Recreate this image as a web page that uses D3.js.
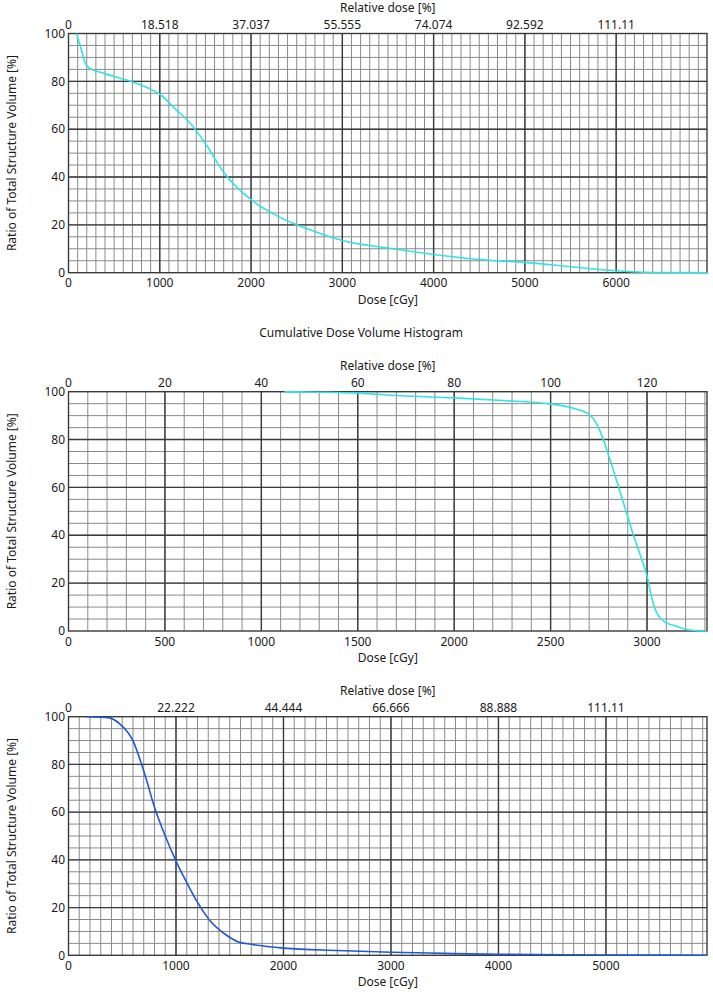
<!DOCTYPE html>
<html>
<head>
<meta charset="utf-8">
<script src="https://cdn.jsdelivr.net/npm/d3@7"></script>
<style>
  body { margin: 0; background: #fff; }
  svg { font-family: "Segoe UI", "Noto Sans", sans-serif; }
</style>
</head>
<body>
<svg id="chart" width="713" height="995"></svg>
<script>
// panel 1
const doseTicks1 = [0, 1000, 2000, 3000, 4000, 5000, 6000];
const relLabels1 = ["0", "18.518", "37.037", "55.555", "74.074", "92.592", "111.11"];
const dose1 = [88, 142, 178, 233, 306, 452, 671, 854, 1000, 1182, 1310, 1500, 1700, 2000, 2250, 2500, 2750, 3000, 3500, 4000, 4500, 5000, 5500, 6000, 6300, 6600, 7000];
const vol1  = [100, 93, 88.2, 85.4, 84.3, 82.6, 80.1, 77.5, 74.6, 68, 63.5, 54, 42, 30.5, 24.5, 20, 16.5, 13.5, 10.3, 7.6, 5.5, 4.3, 2.5, 0.8, 0.2, 0.05, 0];

// panel 2
const doseTicks2 = [0, 500, 1000, 1500, 2000, 2500, 3000];
const relLabels2 = ["0", "20", "40", "60", "80", "100", "120"];
const dose2 = [1120, 1300, 1500, 1722, 2000, 2250, 2496, 2622, 2700, 2740, 2780, 2830, 2880, 2930, 2970, 3000, 3020, 3040, 3060, 3089, 3159, 3211, 3260, 3310];
const vol2  = [100, 99.8, 99.4, 98.3, 97.4, 96.3, 94.9, 93, 90.5, 86.5, 78.5, 66, 53, 40, 30.5, 23, 15.5, 9.5, 6.2, 3.9, 1.8, 0.5, 0.1, 0];

// panel 3
const doseTicks3 = [0, 1000, 2000, 3000, 4000, 5000];
const relLabels3 = ["0", "22.222", "44.444", "66.666", "88.888", "111.11"];
const dose3 = [168, 379, 472, 597, 721, 800, 900, 1000, 1100, 1187, 1311, 1467, 1575, 1700, 2000, 2500, 3000, 3500, 4000, 5000, 5940];
const vol3  = [100, 99.5, 97.2, 90.2, 74.2, 62, 50, 39.5, 30.5, 23.2, 14.8, 8.5, 5.7, 4.6, 3.0, 2.0, 1.3, 0.8, 0.4, 0.15, 0];

const volTicks = [0, 20, 40, 60, 80, 100];

const svg = d3.select("#chart");
const left = 68.5, right = 707;
const fs = 12;

function drawPanel(cfg) {
    const g = svg.append("g");

    const x = d3.scaleLinear().domain([0, cfg.xMax]).range([left, right]);
    const y = d3.scaleLinear().domain([0, 100]).range([cfg.bottom, cfg.top]);

    // minor grid
    g.selectAll(".vminor")
        .data(d3.range(100, cfg.xMax, 100))
        .join("line")
            .attr("x1", d => x(d)).attr("x2", d => x(d))
            .attr("y1", cfg.top).attr("y2", cfg.bottom)
            .attr("stroke", "#8a8a8a").attr("stroke-width", 1);
    g.selectAll(".hminor")
        .data(d3.range(5, 100, 5))
        .join("line")
            .attr("x1", left).attr("x2", right)
            .attr("y1", d => y(d)).attr("y2", d => y(d))
            .attr("stroke", "#8a8a8a").attr("stroke-width", 1);

    // major grid
    g.selectAll(".vmajor")
        .data(cfg.doseTicks.slice(1))
        .join("line")
            .attr("x1", d => x(d)).attr("x2", d => x(d))
            .attr("y1", cfg.top).attr("y2", cfg.bottom)
            .attr("stroke", "#3a3a3a").attr("stroke-width", 1.4);
    g.selectAll(".hmajor")
        .data(volTicks.slice(1, -1))
        .join("line")
            .attr("x1", left).attr("x2", right)
            .attr("y1", d => y(d)).attr("y2", d => y(d))
            .attr("stroke", "#3a3a3a").attr("stroke-width", 1.4);

    g.append("rect")
        .attr("x", left).attr("y", cfg.top)
        .attr("width", right - left).attr("height", cfg.bottom - cfg.top)
        .attr("fill", "none").attr("stroke", "#3a3a3a").attr("stroke-width", 1.4);

    // curve
    const line = d3.line()
        .x((d, i) => x(cfg.dose[i]))
        .y(d => y(d))
        .curve(d3.curveMonotoneX);
    g.append("path")
        .datum(cfg.vol)
        .attr("d", line)
        .attr("fill", "none")
        .attr("stroke", cfg.color)
        .attr("stroke-width", 1.6);

    // labels
    g.selectAll(".ylab")
        .data(volTicks)
        .join("text")
            .attr("x", 65).attr("y", d => y(d)).attr("dy", "0.35em")
            .attr("text-anchor", "end")
            .attr("font-size", fs).attr("fill", "#1a1a1a")
            .text(d => d);
    g.selectAll(".xlab")
        .data(cfg.doseTicks)
        .join("text")
            .attr("x", d => x(d)).attr("y", cfg.bottom + 14.5)
            .attr("text-anchor", "middle")
            .attr("font-size", fs).attr("fill", "#1a1a1a")
            .text(d => d);
    g.selectAll(".rlab")
        .data(cfg.doseTicks)
        .join("text")
            .attr("x", d => x(d)).attr("y", cfg.top - 4.5)
            .attr("text-anchor", "middle")
            .attr("font-size", fs).attr("fill", "#1a1a1a")
            .text((d, i) => cfg.relLabels[i]);

    g.append("text")
        .attr("x", (left + right) / 2).attr("y", cfg.top - 22)
        .attr("text-anchor", "middle")
        .attr("font-size", fs).attr("fill", "#1a1a1a")
        .text("Relative dose [%]");
    g.append("text")
        .attr("x", (left + right) / 2).attr("y", cfg.bottom + 31)
        .attr("text-anchor", "middle")
        .attr("font-size", fs).attr("fill", "#1a1a1a")
        .text("Dose [cGy]");
    g.append("text")
        .attr("transform", "translate(12," + (cfg.top + cfg.bottom) / 2 + ")rotate(-90)")
        .attr("dy", "0.35em")
        .attr("text-anchor", "middle")
        .attr("font-size", fs).attr("fill", "#1a1a1a")
        .text("Ratio of Total Structure Volume [%]");
}

drawPanel({top: 33.5, bottom: 272.7, xMax: 6995, doseTicks: doseTicks1, relLabels: relLabels1,
    dose: dose1, vol: vol1, color: "#30e3e6"});
drawPanel({top: 391.7, bottom: 631, xMax: 3311, doseTicks: doseTicks2, relLabels: relLabels2,
    dose: dose2, vol: vol2, color: "#30e3e6"});
drawPanel({top: 716.7, bottom: 955.3, xMax: 5940, doseTicks: doseTicks3, relLabels: relLabels3,
    dose: dose3, vol: vol3, color: "#1f58d6"});

svg.append("text")
    .attr("x", 361).attr("y", 333).attr("dy", "0.35em")
    .attr("text-anchor", "middle")
    .attr("font-size", fs).attr("fill", "#1a1a1a")
    .text("Cumulative Dose Volume Histogram");
</script>
</body>
</html>
